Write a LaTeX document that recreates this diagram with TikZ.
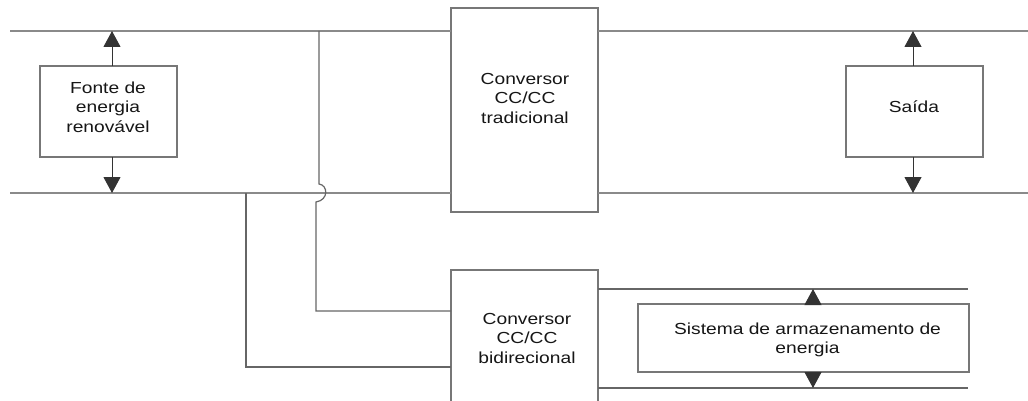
\documentclass[tikz,border=0pt]{standalone}
\usepackage{fontspec}
\setmainfont{Liberation Sans}[FakeStretch=1.2]
\usetikzlibrary{arrows.meta}
\definecolor{buscol}{HTML}{8A8A8A}
\definecolor{wirecol}{HTML}{666666}
\definecolor{boxcol}{HTML}{777777}
\definecolor{arrcol}{HTML}{333333}
\definecolor{txtcol}{HTML}{161616}
\tikzset{
  bus/.style={draw=buscol, line width=1.5pt},
  wire/.style={draw=wirecol, line width=1.2pt},
  box/.style={draw=boxcol, line width=1.2pt, fill=white, inner sep=0pt, outer sep=0pt},
  lbl/.style={font=\fontsize{16}{19.5}\selectfont, text=txtcol, align=center, inner sep=0pt},
  flow/.style={draw=arrcol, line width=1pt, -{Triangle[length=16pt,width=17pt]}}
}
\begin{document}
\begin{tikzpicture}[x=1pt,y=-1pt]
\clip (0,0) rectangle (1028,401);
\fill[white] (0,0) rectangle (1028,401);

% bus end points
\coordinate (tl) at (10,31);
\coordinate (bl) at (10,193);
\coordinate (tr) at (1028,31);
\coordinate (br) at (1028,193);

% blocks
\node[box, minimum width=137pt, minimum height=91pt]  (fonte) at (108.5,111.5) {};
\node[box, minimum width=147pt, minimum height=204pt] (conv)  at (524.5,110) {};
\node[box, minimum width=137pt, minimum height=91pt]  (saida) at (914.5,111.5) {};
\node[box, minimum width=147pt, minimum height=160pt] (bidir) at (524.5,350) {};
\node[box, minimum width=331pt, minimum height=68pt]  (store) at (803.5,338) {};

% labels
\node[lbl] (fonteTxt) at (108,107) {Fonte de\\energia\\renovável};
\node[lbl] (convTxt)  at (525,98)  {Conversor\\CC/CC\\tradicional};
\node[lbl] (saidaTxt) at (914,107) {Saída};
\node[lbl] (bidirTxt) at (527,338) {Conversor\\CC/CC\\bidirecional};
\node[lbl] (storeTxt) at (807.5,340) {Sistema de armazenamento de\\energia};

% DC buses
\draw[bus] (tl) -- (tl -| conv.west);
\draw[bus] (tl -| conv.east) -- (tr);
\draw[bus] (bl) -- (bl -| conv.west);
\draw[bus] (bl -| conv.east) -- (br);

% taps to the bidirectional converter (upper one hops over the lower bus)
\coordinate (tapA) at (319,31);
\coordinate (hopA) at (319,184);
\coordinate (hopB) at (316,202);
\coordinate (jA)   at (316,311);
\draw[wire] (tapA) -- (hopA) .. controls (328,185) and (329,200) .. (hopB)
  -- (jA) -- (jA -| bidir.west);
\coordinate (tapB) at (246,193);
\coordinate (jB)   at (246,367);
\draw[wire] (tapB) -- (jB) -- (jB -| bidir.west);

% storage side lines
\coordinate (sTop) at (968,289);
\coordinate (sBot) at (968,388);
\draw[wire] (sTop -| bidir.east) -- (sTop);
\draw[wire] (sBot -| bidir.east) -- (sBot);

% power flow arrows
\coordinate (fa) at (112,31);
\draw[flow] (fa |- fonte.north) -- (fa);
\draw[flow] (fa |- fonte.south) -- (fa |- bl);
\coordinate (oa) at (913,31);
\draw[flow] (oa |- saida.north) -- (oa);
\draw[flow] (oa |- saida.south) -- (oa |- br);
\coordinate (sa) at (813,289);
\draw[flow] (sa |- store.north) -- (sa);
\draw[flow] (sa |- store.south) -- (sa |- sBot);
\end{tikzpicture}
\end{document}
